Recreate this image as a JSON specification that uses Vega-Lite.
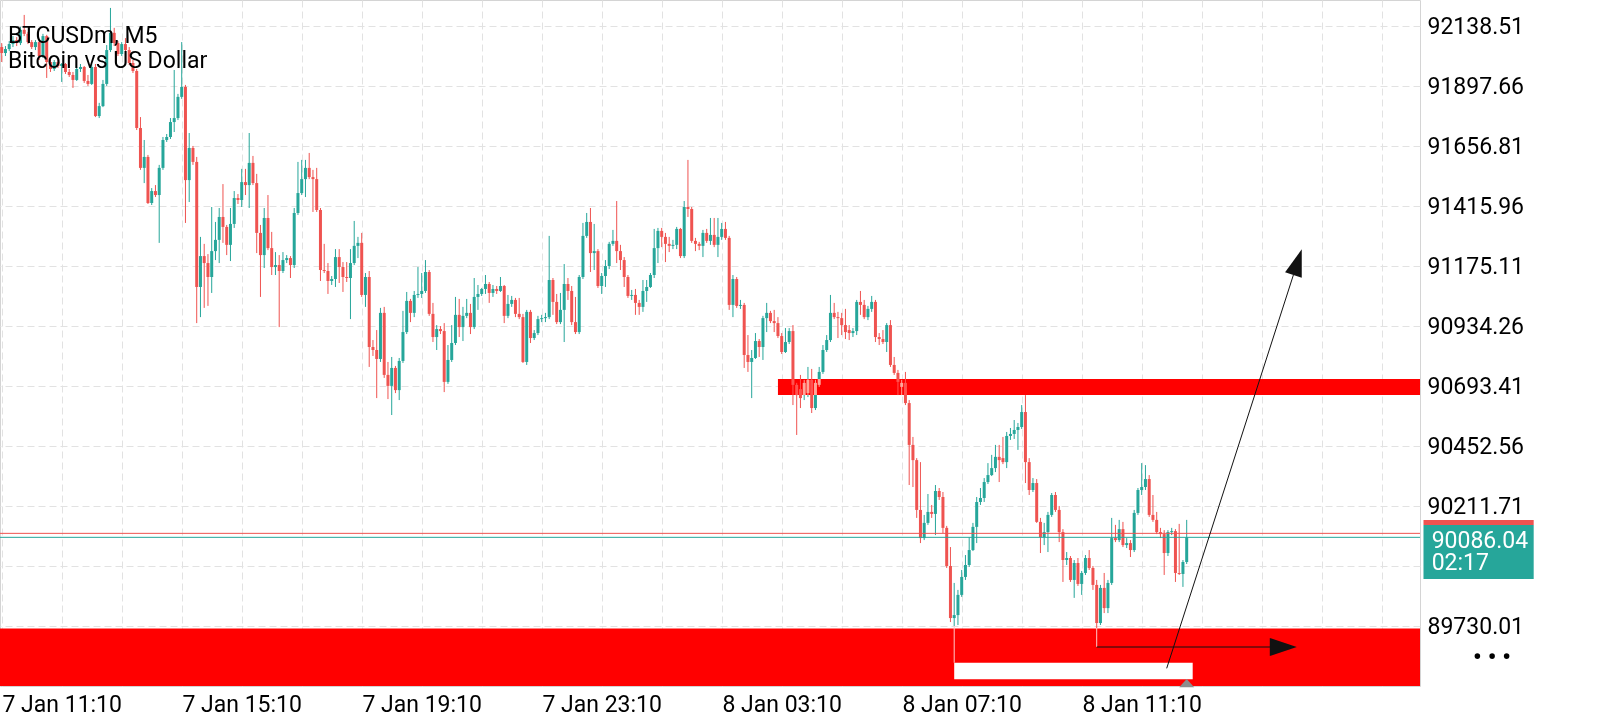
{
  "$schema": "https://vega.github.io/schema/vega-lite/v6.json",
  "width": 1420,
  "height": 686,
  "autosize": {"type": "none"},
  "padding": {"left": 0, "top": 0, "right": 180, "bottom": 34},
  "background": "#ffffff",
  "title": {
    "text": ["BTCUSDm, M5", "Bitcoin vs US Dollar"],
    "anchor": "start", "frame": "group", "orient": "top", "offset": -96,
    "baseline": "bottom", "lineHeight": 25.5, "font": "Roboto", "fontSize": 23,
    "fontWeight": "normal", "color": "#000000", "dx": 8
  },
  "datasets": {
    "candles": [
      {"t":"2026-01-07T09:50Z","o":92054,"h":92070,"l":91994,"c":92030},
      {"t":"2026-01-07T09:55Z","o":92030,"h":92058,"l":92018,"c":92046},
      {"t":"2026-01-07T10:00Z","o":92046,"h":92078,"l":92038,"c":92066},
      {"t":"2026-01-07T10:05Z","o":92066,"h":92098,"l":92054,"c":92082},
      {"t":"2026-01-07T10:10Z","o":92082,"h":92094,"l":92058,"c":92070},
      {"t":"2026-01-07T10:15Z","o":92070,"h":92135,"l":92062,"c":92123},
      {"t":"2026-01-07T10:20Z","o":92123,"h":92183,"l":92098,"c":92107},
      {"t":"2026-01-07T10:25Z","o":92107,"h":92115,"l":92066,"c":92074},
      {"t":"2026-01-07T10:30Z","o":92074,"h":92082,"l":92046,"c":92054},
      {"t":"2026-01-07T10:35Z","o":92054,"h":92082,"l":92042,"c":92074},
      {"t":"2026-01-07T10:40Z","o":92074,"h":92082,"l":92002,"c":92018},
      {"t":"2026-01-07T10:45Z","o":92018,"h":92107,"l":92010,"c":92098},
      {"t":"2026-01-07T10:50Z","o":92098,"h":92103,"l":91930,"c":91994},
      {"t":"2026-01-07T10:55Z","o":91994,"h":92002,"l":91954,"c":91966},
      {"t":"2026-01-07T11:00Z","o":91966,"h":92002,"l":91958,"c":91994},
      {"t":"2026-01-07T11:05Z","o":91994,"h":92002,"l":91970,"c":91978},
      {"t":"2026-01-07T11:10Z","o":91978,"h":91990,"l":91914,"c":91986},
      {"t":"2026-01-07T11:15Z","o":91986,"h":91990,"l":91946,"c":91954},
      {"t":"2026-01-07T11:20Z","o":91954,"h":91966,"l":91934,"c":91942},
      {"t":"2026-01-07T11:25Z","o":91942,"h":91954,"l":91890,"c":91922},
      {"t":"2026-01-07T11:30Z","o":91922,"h":91974,"l":91918,"c":91966},
      {"t":"2026-01-07T11:35Z","o":91966,"h":91986,"l":91954,"c":91974},
      {"t":"2026-01-07T11:40Z","o":91974,"h":91978,"l":91910,"c":91918},
      {"t":"2026-01-07T11:45Z","o":91918,"h":91942,"l":91898,"c":91906},
      {"t":"2026-01-07T11:50Z","o":91906,"h":91986,"l":91902,"c":91974},
      {"t":"2026-01-07T11:55Z","o":91974,"h":91986,"l":91773,"c":91777},
      {"t":"2026-01-07T12:00Z","o":91777,"h":91830,"l":91769,"c":91817},
      {"t":"2026-01-07T12:05Z","o":91817,"h":91922,"l":91813,"c":91906},
      {"t":"2026-01-07T12:10Z","o":91906,"h":92062,"l":91898,"c":92042},
      {"t":"2026-01-07T12:15Z","o":92042,"h":92211,"l":92034,"c":92111},
      {"t":"2026-01-07T12:20Z","o":92111,"h":92131,"l":92058,"c":92070},
      {"t":"2026-01-07T12:25Z","o":92070,"h":92078,"l":92018,"c":92026},
      {"t":"2026-01-07T12:30Z","o":92026,"h":92074,"l":92018,"c":92066},
      {"t":"2026-01-07T12:35Z","o":92066,"h":92090,"l":92034,"c":92042},
      {"t":"2026-01-07T12:40Z","o":92042,"h":92054,"l":91982,"c":91990},
      {"t":"2026-01-07T12:45Z","o":91990,"h":92002,"l":91950,"c":91958},
      {"t":"2026-01-07T12:50Z","o":91958,"h":91966,"l":91721,"c":91729},
      {"t":"2026-01-07T12:55Z","o":91729,"h":91773,"l":91561,"c":91569},
      {"t":"2026-01-07T13:00Z","o":91569,"h":91681,"l":91508,"c":91613},
      {"t":"2026-01-07T13:05Z","o":91613,"h":91621,"l":91424,"c":91428},
      {"t":"2026-01-07T13:10Z","o":91428,"h":91488,"l":91420,"c":91476},
      {"t":"2026-01-07T13:15Z","o":91476,"h":91500,"l":91452,"c":91460},
      {"t":"2026-01-07T13:20Z","o":91460,"h":91581,"l":91268,"c":91569},
      {"t":"2026-01-07T13:25Z","o":91569,"h":91693,"l":91561,"c":91681},
      {"t":"2026-01-07T13:30Z","o":91681,"h":91705,"l":91673,"c":91693},
      {"t":"2026-01-07T13:35Z","o":91693,"h":91769,"l":91685,"c":91753},
      {"t":"2026-01-07T13:40Z","o":91753,"h":91962,"l":91713,"c":91769},
      {"t":"2026-01-07T13:45Z","o":91769,"h":91866,"l":91761,"c":91854},
      {"t":"2026-01-07T13:50Z","o":91854,"h":92074,"l":91846,"c":91894},
      {"t":"2026-01-07T13:55Z","o":91894,"h":91902,"l":91348,"c":91520},
      {"t":"2026-01-07T14:00Z","o":91520,"h":91709,"l":91432,"c":91649},
      {"t":"2026-01-07T14:05Z","o":91649,"h":91657,"l":91581,"c":91593},
      {"t":"2026-01-07T14:10Z","o":91593,"h":91613,"l":90946,"c":91091},
      {"t":"2026-01-07T14:15Z","o":91091,"h":91292,"l":90970,"c":91215},
      {"t":"2026-01-07T14:20Z","o":91215,"h":91264,"l":91007,"c":91187},
      {"t":"2026-01-07T14:25Z","o":91187,"h":91223,"l":91015,"c":91131},
      {"t":"2026-01-07T14:30Z","o":91131,"h":91412,"l":91067,"c":91235},
      {"t":"2026-01-07T14:35Z","o":91235,"h":91352,"l":91199,"c":91280},
      {"t":"2026-01-07T14:40Z","o":91280,"h":91408,"l":91187,"c":91372},
      {"t":"2026-01-07T14:45Z","o":91372,"h":91504,"l":91268,"c":91332},
      {"t":"2026-01-07T14:50Z","o":91332,"h":91340,"l":91219,"c":91260},
      {"t":"2026-01-07T14:55Z","o":91260,"h":91408,"l":91195,"c":91344},
      {"t":"2026-01-07T15:00Z","o":91344,"h":91476,"l":91328,"c":91448},
      {"t":"2026-01-07T15:05Z","o":91448,"h":91464,"l":91424,"c":91440},
      {"t":"2026-01-07T15:10Z","o":91440,"h":91565,"l":91412,"c":91512},
      {"t":"2026-01-07T15:15Z","o":91512,"h":91565,"l":91460,"c":91500},
      {"t":"2026-01-07T15:20Z","o":91500,"h":91709,"l":91408,"c":91589},
      {"t":"2026-01-07T15:25Z","o":91589,"h":91617,"l":91500,"c":91508},
      {"t":"2026-01-07T15:30Z","o":91508,"h":91545,"l":91227,"c":91308},
      {"t":"2026-01-07T15:35Z","o":91308,"h":91340,"l":91051,"c":91219},
      {"t":"2026-01-07T15:40Z","o":91219,"h":91408,"l":91167,"c":91368},
      {"t":"2026-01-07T15:45Z","o":91368,"h":91460,"l":91239,"c":91247},
      {"t":"2026-01-07T15:50Z","o":91247,"h":91312,"l":91139,"c":91171},
      {"t":"2026-01-07T15:55Z","o":91171,"h":91231,"l":91139,"c":91179},
      {"t":"2026-01-07T16:00Z","o":91179,"h":91219,"l":90930,"c":91155},
      {"t":"2026-01-07T16:05Z","o":91155,"h":91231,"l":91147,"c":91199},
      {"t":"2026-01-07T16:10Z","o":91199,"h":91219,"l":91187,"c":91207},
      {"t":"2026-01-07T16:15Z","o":91207,"h":91215,"l":91127,"c":91179},
      {"t":"2026-01-07T16:20Z","o":91179,"h":91408,"l":91167,"c":91388},
      {"t":"2026-01-07T16:25Z","o":91388,"h":91593,"l":91380,"c":91468},
      {"t":"2026-01-07T16:30Z","o":91468,"h":91601,"l":91460,"c":91524},
      {"t":"2026-01-07T16:35Z","o":91524,"h":91601,"l":91452,"c":91569},
      {"t":"2026-01-07T16:40Z","o":91569,"h":91629,"l":91524,"c":91532},
      {"t":"2026-01-07T16:45Z","o":91532,"h":91561,"l":91392,"c":91524},
      {"t":"2026-01-07T16:50Z","o":91524,"h":91569,"l":91392,"c":91400},
      {"t":"2026-01-07T16:55Z","o":91400,"h":91408,"l":91115,"c":91159},
      {"t":"2026-01-07T17:00Z","o":91159,"h":91264,"l":91147,"c":91155},
      {"t":"2026-01-07T17:05Z","o":91155,"h":91187,"l":91063,"c":91115},
      {"t":"2026-01-07T17:10Z","o":91115,"h":91135,"l":91099,"c":91123},
      {"t":"2026-01-07T17:15Z","o":91123,"h":91243,"l":91091,"c":91211},
      {"t":"2026-01-07T17:20Z","o":91211,"h":91243,"l":91107,"c":91171},
      {"t":"2026-01-07T17:25Z","o":91171,"h":91191,"l":91071,"c":91131},
      {"t":"2026-01-07T17:30Z","o":91131,"h":91191,"l":91111,"c":91127},
      {"t":"2026-01-07T17:35Z","o":91127,"h":91243,"l":90962,"c":91187},
      {"t":"2026-01-07T17:40Z","o":91187,"h":91356,"l":91179,"c":91256},
      {"t":"2026-01-07T17:45Z","o":91256,"h":91292,"l":91207,"c":91268},
      {"t":"2026-01-07T17:50Z","o":91268,"h":91308,"l":91051,"c":91059},
      {"t":"2026-01-07T17:55Z","o":91059,"h":91147,"l":91011,"c":91131},
      {"t":"2026-01-07T18:00Z","o":91131,"h":91155,"l":90770,"c":90850},
      {"t":"2026-01-07T18:05Z","o":90850,"h":90878,"l":90814,"c":90838},
      {"t":"2026-01-07T18:10Z","o":90838,"h":90918,"l":90645,"c":90802},
      {"t":"2026-01-07T18:15Z","o":90802,"h":91007,"l":90790,"c":90987},
      {"t":"2026-01-07T18:20Z","o":90987,"h":91011,"l":90726,"c":90738},
      {"t":"2026-01-07T18:25Z","o":90738,"h":90790,"l":90641,"c":90694},
      {"t":"2026-01-07T18:30Z","o":90694,"h":90810,"l":90577,"c":90766},
      {"t":"2026-01-07T18:35Z","o":90766,"h":90774,"l":90665,"c":90677},
      {"t":"2026-01-07T18:40Z","o":90677,"h":90806,"l":90637,"c":90794},
      {"t":"2026-01-07T18:45Z","o":90794,"h":90995,"l":90786,"c":90910},
      {"t":"2026-01-07T18:50Z","o":90910,"h":91071,"l":90902,"c":91035},
      {"t":"2026-01-07T18:55Z","o":91035,"h":91043,"l":90950,"c":90987},
      {"t":"2026-01-07T19:00Z","o":90987,"h":91075,"l":90970,"c":91059},
      {"t":"2026-01-07T19:05Z","o":91059,"h":91171,"l":91047,"c":91063},
      {"t":"2026-01-07T19:10Z","o":91063,"h":91147,"l":91047,"c":91075},
      {"t":"2026-01-07T19:15Z","o":91075,"h":91199,"l":91067,"c":91151},
      {"t":"2026-01-07T19:20Z","o":91151,"h":91159,"l":90975,"c":90983},
      {"t":"2026-01-07T19:25Z","o":90983,"h":91027,"l":90870,"c":90890},
      {"t":"2026-01-07T19:30Z","o":90890,"h":90938,"l":90838,"c":90922},
      {"t":"2026-01-07T19:35Z","o":90922,"h":90934,"l":90902,"c":90914},
      {"t":"2026-01-07T19:40Z","o":90914,"h":90946,"l":90669,"c":90710},
      {"t":"2026-01-07T19:45Z","o":90710,"h":90858,"l":90702,"c":90798},
      {"t":"2026-01-07T19:50Z","o":90798,"h":90938,"l":90790,"c":90866},
      {"t":"2026-01-07T19:55Z","o":90866,"h":91051,"l":90858,"c":90979},
      {"t":"2026-01-07T20:00Z","o":90979,"h":91043,"l":90890,"c":90930},
      {"t":"2026-01-07T20:05Z","o":90930,"h":91011,"l":90874,"c":90975},
      {"t":"2026-01-07T20:10Z","o":90975,"h":91043,"l":90966,"c":90987},
      {"t":"2026-01-07T20:15Z","o":90987,"h":91023,"l":90902,"c":90930},
      {"t":"2026-01-07T20:20Z","o":90930,"h":91127,"l":90922,"c":91051},
      {"t":"2026-01-07T20:25Z","o":91051,"h":91099,"l":90999,"c":91063},
      {"t":"2026-01-07T20:30Z","o":91063,"h":91087,"l":91055,"c":91083},
      {"t":"2026-01-07T20:35Z","o":91083,"h":91139,"l":91063,"c":91103},
      {"t":"2026-01-07T20:40Z","o":91103,"h":91111,"l":91027,"c":91067},
      {"t":"2026-01-07T20:45Z","o":91067,"h":91099,"l":91051,"c":91083},
      {"t":"2026-01-07T20:50Z","o":91083,"h":91095,"l":91063,"c":91075},
      {"t":"2026-01-07T20:55Z","o":91075,"h":91131,"l":91071,"c":91095},
      {"t":"2026-01-07T21:00Z","o":91095,"h":91099,"l":90946,"c":90975},
      {"t":"2026-01-07T21:05Z","o":90975,"h":91059,"l":90966,"c":91023},
      {"t":"2026-01-07T21:10Z","o":91023,"h":91055,"l":91011,"c":91039},
      {"t":"2026-01-07T21:15Z","o":91039,"h":91047,"l":90970,"c":90983},
      {"t":"2026-01-07T21:20Z","o":90983,"h":91047,"l":90962,"c":90970},
      {"t":"2026-01-07T21:25Z","o":90970,"h":90983,"l":90786,"c":90790},
      {"t":"2026-01-07T21:30Z","o":90790,"h":90999,"l":90778,"c":90991},
      {"t":"2026-01-07T21:35Z","o":90991,"h":90999,"l":90866,"c":90886},
      {"t":"2026-01-07T21:40Z","o":90886,"h":90918,"l":90878,"c":90906},
      {"t":"2026-01-07T21:45Z","o":90906,"h":90975,"l":90898,"c":90962},
      {"t":"2026-01-07T21:50Z","o":90962,"h":90979,"l":90950,"c":90966},
      {"t":"2026-01-07T21:55Z","o":90966,"h":90987,"l":90950,"c":90970},
      {"t":"2026-01-07T22:00Z","o":90970,"h":91296,"l":90962,"c":91119},
      {"t":"2026-01-07T22:05Z","o":91119,"h":91127,"l":90979,"c":91031},
      {"t":"2026-01-07T22:10Z","o":91031,"h":91063,"l":90942,"c":90950},
      {"t":"2026-01-07T22:15Z","o":90950,"h":91067,"l":90942,"c":90999},
      {"t":"2026-01-07T22:20Z","o":90999,"h":91183,"l":90870,"c":91103},
      {"t":"2026-01-07T22:25Z","o":91103,"h":91127,"l":91039,"c":91075},
      {"t":"2026-01-07T22:30Z","o":91075,"h":91095,"l":90938,"c":90950},
      {"t":"2026-01-07T22:35Z","o":90950,"h":91051,"l":90902,"c":90910},
      {"t":"2026-01-07T22:40Z","o":90910,"h":91139,"l":90902,"c":91131},
      {"t":"2026-01-07T22:45Z","o":91131,"h":91348,"l":91123,"c":91296},
      {"t":"2026-01-07T22:50Z","o":91296,"h":91388,"l":91288,"c":91352},
      {"t":"2026-01-07T22:55Z","o":91352,"h":91408,"l":91151,"c":91227},
      {"t":"2026-01-07T23:00Z","o":91227,"h":91344,"l":91159,"c":91235},
      {"t":"2026-01-07T23:05Z","o":91235,"h":91243,"l":91087,"c":91095},
      {"t":"2026-01-07T23:10Z","o":91095,"h":91147,"l":91063,"c":91135},
      {"t":"2026-01-07T23:15Z","o":91135,"h":91199,"l":91091,"c":91175},
      {"t":"2026-01-07T23:20Z","o":91175,"h":91272,"l":91163,"c":91264},
      {"t":"2026-01-07T23:25Z","o":91264,"h":91320,"l":91256,"c":91276},
      {"t":"2026-01-07T23:30Z","o":91276,"h":91436,"l":91187,"c":91235},
      {"t":"2026-01-07T23:35Z","o":91235,"h":91260,"l":91159,"c":91199},
      {"t":"2026-01-07T23:40Z","o":91199,"h":91211,"l":91091,"c":91131},
      {"t":"2026-01-07T23:45Z","o":91131,"h":91139,"l":91047,"c":91055},
      {"t":"2026-01-07T23:50Z","o":91055,"h":91079,"l":91039,"c":91059},
      {"t":"2026-01-07T23:55Z","o":91059,"h":91083,"l":90979,"c":91027},
      {"t":"2026-01-08T00:00Z","o":91027,"h":91039,"l":90979,"c":91011},
      {"t":"2026-01-08T00:05Z","o":91011,"h":91119,"l":90991,"c":91075},
      {"t":"2026-01-08T00:10Z","o":91075,"h":91119,"l":91031,"c":91091},
      {"t":"2026-01-08T00:15Z","o":91091,"h":91147,"l":91087,"c":91139},
      {"t":"2026-01-08T00:20Z","o":91139,"h":91324,"l":91127,"c":91247},
      {"t":"2026-01-08T00:25Z","o":91247,"h":91328,"l":91187,"c":91316},
      {"t":"2026-01-08T00:30Z","o":91316,"h":91328,"l":91251,"c":91292},
      {"t":"2026-01-08T00:35Z","o":91292,"h":91308,"l":91191,"c":91264},
      {"t":"2026-01-08T00:40Z","o":91264,"h":91292,"l":91231,"c":91256},
      {"t":"2026-01-08T00:45Z","o":91256,"h":91280,"l":91243,"c":91260},
      {"t":"2026-01-08T00:50Z","o":91260,"h":91332,"l":91243,"c":91324},
      {"t":"2026-01-08T00:55Z","o":91324,"h":91328,"l":91207,"c":91215},
      {"t":"2026-01-08T01:00Z","o":91215,"h":91436,"l":91207,"c":91412},
      {"t":"2026-01-08T01:05Z","o":91412,"h":91601,"l":91372,"c":91404},
      {"t":"2026-01-08T01:10Z","o":91404,"h":91412,"l":91268,"c":91276},
      {"t":"2026-01-08T01:15Z","o":91276,"h":91288,"l":91235,"c":91264},
      {"t":"2026-01-08T01:20Z","o":91264,"h":91272,"l":91239,"c":91256},
      {"t":"2026-01-08T01:25Z","o":91256,"h":91320,"l":91211,"c":91308},
      {"t":"2026-01-08T01:30Z","o":91308,"h":91324,"l":91268,"c":91276},
      {"t":"2026-01-08T01:35Z","o":91276,"h":91368,"l":91260,"c":91300},
      {"t":"2026-01-08T01:40Z","o":91300,"h":91368,"l":91251,"c":91260},
      {"t":"2026-01-08T01:45Z","o":91260,"h":91368,"l":91211,"c":91292},
      {"t":"2026-01-08T01:50Z","o":91292,"h":91348,"l":91280,"c":91324},
      {"t":"2026-01-08T01:55Z","o":91324,"h":91352,"l":91280,"c":91288},
      {"t":"2026-01-08T02:00Z","o":91288,"h":91296,"l":90999,"c":91019},
      {"t":"2026-01-08T02:05Z","o":91019,"h":91139,"l":90970,"c":91123},
      {"t":"2026-01-08T02:10Z","o":91123,"h":91131,"l":91007,"c":91015},
      {"t":"2026-01-08T02:15Z","o":91015,"h":91039,"l":91003,"c":91019},
      {"t":"2026-01-08T02:20Z","o":91019,"h":91027,"l":90766,"c":90818},
      {"t":"2026-01-08T02:25Z","o":90818,"h":90898,"l":90750,"c":90790},
      {"t":"2026-01-08T02:30Z","o":90790,"h":90838,"l":90645,"c":90806},
      {"t":"2026-01-08T02:35Z","o":90806,"h":90906,"l":90802,"c":90874},
      {"t":"2026-01-08T02:40Z","o":90874,"h":90882,"l":90810,"c":90850},
      {"t":"2026-01-08T02:45Z","o":90850,"h":90975,"l":90798,"c":90966},
      {"t":"2026-01-08T02:50Z","o":90966,"h":91027,"l":90910,"c":90987},
      {"t":"2026-01-08T02:55Z","o":90987,"h":90995,"l":90946,"c":90954},
      {"t":"2026-01-08T03:00Z","o":90954,"h":90999,"l":90910,"c":90946},
      {"t":"2026-01-08T03:05Z","o":90946,"h":90970,"l":90886,"c":90894},
      {"t":"2026-01-08T03:10Z","o":90894,"h":90906,"l":90822,"c":90830},
      {"t":"2026-01-08T03:15Z","o":90830,"h":90926,"l":90826,"c":90870},
      {"t":"2026-01-08T03:20Z","o":90870,"h":90926,"l":90862,"c":90914},
      {"t":"2026-01-08T03:25Z","o":90914,"h":90938,"l":90617,"c":90698},
      {"t":"2026-01-08T03:30Z","o":90698,"h":90706,"l":90497,"c":90657},
      {"t":"2026-01-08T03:35Z","o":90681,"h":90738,"l":90605,"c":90645},
      {"t":"2026-01-08T03:40Z","o":90657,"h":90718,"l":90637,"c":90706},
      {"t":"2026-01-08T03:45Z","o":90665,"h":90770,"l":90649,"c":90718},
      {"t":"2026-01-08T03:50Z","o":90718,"h":90762,"l":90585,"c":90605},
      {"t":"2026-01-08T03:55Z","o":90605,"h":90718,"l":90597,"c":90706},
      {"t":"2026-01-08T04:00Z","o":90698,"h":90770,"l":90690,"c":90750},
      {"t":"2026-01-08T04:05Z","o":90750,"h":90858,"l":90742,"c":90838},
      {"t":"2026-01-08T04:10Z","o":90838,"h":90898,"l":90830,"c":90878},
      {"t":"2026-01-08T04:15Z","o":90878,"h":91059,"l":90870,"c":90987},
      {"t":"2026-01-08T04:20Z","o":90987,"h":91027,"l":90962,"c":90970},
      {"t":"2026-01-08T04:25Z","o":90970,"h":90991,"l":90886,"c":90966},
      {"t":"2026-01-08T04:30Z","o":90966,"h":90987,"l":90898,"c":90938},
      {"t":"2026-01-08T04:35Z","o":90938,"h":91003,"l":90882,"c":90910},
      {"t":"2026-01-08T04:40Z","o":90918,"h":90938,"l":90878,"c":90906},
      {"t":"2026-01-08T04:45Z","o":90906,"h":90926,"l":90890,"c":90914},
      {"t":"2026-01-08T04:50Z","o":90914,"h":91039,"l":90898,"c":91031},
      {"t":"2026-01-08T04:55Z","o":91031,"h":91075,"l":90979,"c":91019},
      {"t":"2026-01-08T05:00Z","o":91019,"h":91039,"l":90962,"c":90970},
      {"t":"2026-01-08T05:05Z","o":90970,"h":91015,"l":90958,"c":91003},
      {"t":"2026-01-08T05:10Z","o":91003,"h":91055,"l":90991,"c":91031},
      {"t":"2026-01-08T05:15Z","o":91031,"h":91039,"l":90870,"c":90890},
      {"t":"2026-01-08T05:20Z","o":90890,"h":90906,"l":90858,"c":90882},
      {"t":"2026-01-08T05:25Z","o":90882,"h":90918,"l":90862,"c":90870},
      {"t":"2026-01-08T05:30Z","o":90870,"h":90946,"l":90830,"c":90938},
      {"t":"2026-01-08T05:35Z","o":90938,"h":90958,"l":90770,"c":90778},
      {"t":"2026-01-08T05:40Z","o":90778,"h":90810,"l":90738,"c":90746},
      {"t":"2026-01-08T05:45Z","o":90746,"h":90758,"l":90657,"c":90710},
      {"t":"2026-01-08T05:50Z","o":90690,"h":90718,"l":90657,"c":90706},
      {"t":"2026-01-08T05:55Z","o":90706,"h":90750,"l":90617,"c":90625},
      {"t":"2026-01-08T06:00Z","o":90625,"h":90637,"l":90296,"c":90457},
      {"t":"2026-01-08T06:05Z","o":90457,"h":90489,"l":90288,"c":90396},
      {"t":"2026-01-08T06:10Z","o":90396,"h":90404,"l":90164,"c":90196},
      {"t":"2026-01-08T06:15Z","o":90196,"h":90388,"l":90063,"c":90083},
      {"t":"2026-01-08T06:20Z","o":90083,"h":90176,"l":90075,"c":90144},
      {"t":"2026-01-08T06:25Z","o":90144,"h":90260,"l":90136,"c":90188},
      {"t":"2026-01-08T06:30Z","o":90188,"h":90216,"l":90164,"c":90180},
      {"t":"2026-01-08T06:35Z","o":90180,"h":90296,"l":90095,"c":90272},
      {"t":"2026-01-08T06:40Z","o":90272,"h":90284,"l":90236,"c":90248},
      {"t":"2026-01-08T06:45Z","o":90248,"h":90268,"l":90103,"c":90124},
      {"t":"2026-01-08T06:50Z","o":90124,"h":90132,"l":89963,"c":89971},
      {"t":"2026-01-08T06:55Z","o":89971,"h":90047,"l":89746,"c":89762},
      {"t":"2026-01-08T07:00Z","o":89762,"h":89903,"l":89730,"c":89774},
      {"t":"2026-01-08T07:05Z","o":89774,"h":89875,"l":89734,"c":89855},
      {"t":"2026-01-08T07:10Z","o":89855,"h":89955,"l":89847,"c":89927},
      {"t":"2026-01-08T07:15Z","o":89927,"h":90015,"l":89915,"c":89975},
      {"t":"2026-01-08T07:20Z","o":89975,"h":90087,"l":89967,"c":90035},
      {"t":"2026-01-08T07:25Z","o":90035,"h":90144,"l":90031,"c":90128},
      {"t":"2026-01-08T07:30Z","o":90128,"h":90248,"l":90063,"c":90228},
      {"t":"2026-01-08T07:35Z","o":90228,"h":90284,"l":90216,"c":90244},
      {"t":"2026-01-08T07:40Z","o":90244,"h":90324,"l":90228,"c":90308},
      {"t":"2026-01-08T07:45Z","o":90308,"h":90384,"l":90300,"c":90336},
      {"t":"2026-01-08T07:50Z","o":90336,"h":90417,"l":90332,"c":90364},
      {"t":"2026-01-08T07:55Z","o":90364,"h":90457,"l":90348,"c":90409},
      {"t":"2026-01-08T08:00Z","o":90409,"h":90457,"l":90308,"c":90396},
      {"t":"2026-01-08T08:05Z","o":90404,"h":90489,"l":90380,"c":90388},
      {"t":"2026-01-08T08:10Z","o":90388,"h":90509,"l":90364,"c":90493},
      {"t":"2026-01-08T08:15Z","o":90493,"h":90525,"l":90477,"c":90501},
      {"t":"2026-01-08T08:20Z","o":90501,"h":90557,"l":90481,"c":90517},
      {"t":"2026-01-08T08:25Z","o":90517,"h":90545,"l":90437,"c":90529},
      {"t":"2026-01-08T08:30Z","o":90529,"h":90617,"l":90521,"c":90589},
      {"t":"2026-01-08T08:35Z","o":90589,"h":90657,"l":90304,"c":90388},
      {"t":"2026-01-08T08:40Z","o":90388,"h":90404,"l":90256,"c":90276},
      {"t":"2026-01-08T08:45Z","o":90276,"h":90324,"l":90268,"c":90304},
      {"t":"2026-01-08T08:50Z","o":90304,"h":90320,"l":90144,"c":90148},
      {"t":"2026-01-08T08:55Z","o":90148,"h":90164,"l":90023,"c":90087},
      {"t":"2026-01-08T09:00Z","o":90087,"h":90144,"l":90055,"c":90107},
      {"t":"2026-01-08T09:05Z","o":90107,"h":90188,"l":90027,"c":90176},
      {"t":"2026-01-08T09:10Z","o":90176,"h":90264,"l":90168,"c":90256},
      {"t":"2026-01-08T09:15Z","o":90256,"h":90268,"l":90188,"c":90196},
      {"t":"2026-01-08T09:20Z","o":90196,"h":90212,"l":90067,"c":90107},
      {"t":"2026-01-08T09:25Z","o":90107,"h":90119,"l":89907,"c":89995},
      {"t":"2026-01-08T09:30Z","o":89995,"h":90027,"l":89975,"c":90003},
      {"t":"2026-01-08T09:35Z","o":90003,"h":90011,"l":89907,"c":89915},
      {"t":"2026-01-08T09:40Z","o":89915,"h":89995,"l":89843,"c":89983},
      {"t":"2026-01-08T09:45Z","o":89983,"h":90003,"l":89891,"c":89899},
      {"t":"2026-01-08T09:50Z","o":89899,"h":89951,"l":89855,"c":89943},
      {"t":"2026-01-08T09:55Z","o":89943,"h":90015,"l":89935,"c":90003},
      {"t":"2026-01-08T10:00Z","o":90003,"h":90035,"l":89955,"c":89963},
      {"t":"2026-01-08T10:05Z","o":89963,"h":89971,"l":89875,"c":89895},
      {"t":"2026-01-08T10:10Z","o":89895,"h":89915,"l":89722,"c":89742},
      {"t":"2026-01-08T10:15Z","o":89742,"h":89895,"l":89734,"c":89883},
      {"t":"2026-01-08T10:20Z","o":89883,"h":89943,"l":89782,"c":89802},
      {"t":"2026-01-08T10:25Z","o":89802,"h":89915,"l":89782,"c":89903},
      {"t":"2026-01-08T10:30Z","o":89903,"h":90164,"l":89895,"c":90083},
      {"t":"2026-01-08T10:35Z","o":90083,"h":90136,"l":90067,"c":90075},
      {"t":"2026-01-08T10:40Z","o":90075,"h":90156,"l":90067,"c":90119},
      {"t":"2026-01-08T10:45Z","o":90119,"h":90148,"l":90047,"c":90055},
      {"t":"2026-01-08T10:50Z","o":90055,"h":90083,"l":90043,"c":90063},
      {"t":"2026-01-08T10:55Z","o":90063,"h":90075,"l":90007,"c":90035},
      {"t":"2026-01-08T11:00Z","o":90035,"h":90196,"l":90027,"c":90184},
      {"t":"2026-01-08T11:05Z","o":90184,"h":90284,"l":90176,"c":90276},
      {"t":"2026-01-08T11:10Z","o":90276,"h":90384,"l":90256,"c":90288},
      {"t":"2026-01-08T11:15Z","o":90288,"h":90376,"l":90276,"c":90320},
      {"t":"2026-01-08T11:20Z","o":90320,"h":90336,"l":90168,"c":90176},
      {"t":"2026-01-08T11:25Z","o":90176,"h":90256,"l":90148,"c":90156},
      {"t":"2026-01-08T11:30Z","o":90156,"h":90188,"l":90099,"c":90107},
      {"t":"2026-01-08T11:35Z","o":90107,"h":90124,"l":90083,"c":90099},
      {"t":"2026-01-08T11:40Z","o":90099,"h":90115,"l":89935,"c":90023},
      {"t":"2026-01-08T11:45Z","o":90023,"h":90115,"l":90011,"c":90107},
      {"t":"2026-01-08T11:50Z","o":90107,"h":90124,"l":90095,"c":90111},
      {"t":"2026-01-08T11:55Z","o":90111,"h":90119,"l":89907,"c":89943},
      {"t":"2026-01-08T12:00Z","o":89943,"h":90140,"l":89935,"c":89939},
      {"t":"2026-01-08T12:05Z","o":89939,"h":89995,"l":89887,"c":89987},
      {"t":"2026-01-08T12:10Z","o":89987,"h":90156,"l":89979,"c":90086.04}
    ]
  },
  "layer": [
    {
      "data": {"name": "candles"},
      "mark": {"type": "rule", "strokeWidth": 1},
      "encoding": {
        "x": {
          "field": "t", "type": "temporal",
          "scale": {
            "type": "utc", "nice": false,
            "domain": [
              {"year": 2026, "month": 1, "date": 7, "hours": 9, "minutes": 47, "seconds": 43, "utc": true},
              {"year": 2026, "month": 1, "date": 8, "hours": 17, "minutes": 21, "seconds": 5, "utc": true}
            ]
          },
          "axis": {
            "title": null, "domain": false, "ticks": false, "tickSize": 0,
            "grid": true, "gridColor": "#e2e2e2", "gridDash": [7, 4], "gridWidth": 1,
            "values": [
              {"year": 2026, "month": 1, "date": 7, "hours": 9, "minutes": 50, "utc": true},
              {"year": 2026, "month": 1, "date": 7, "hours": 11, "minutes": 10, "utc": true},
              {"year": 2026, "month": 1, "date": 7, "hours": 12, "minutes": 30, "utc": true},
              {"year": 2026, "month": 1, "date": 7, "hours": 13, "minutes": 50, "utc": true},
              {"year": 2026, "month": 1, "date": 7, "hours": 15, "minutes": 10, "utc": true},
              {"year": 2026, "month": 1, "date": 7, "hours": 16, "minutes": 30, "utc": true},
              {"year": 2026, "month": 1, "date": 7, "hours": 17, "minutes": 50, "utc": true},
              {"year": 2026, "month": 1, "date": 7, "hours": 19, "minutes": 10, "utc": true},
              {"year": 2026, "month": 1, "date": 7, "hours": 20, "minutes": 30, "utc": true},
              {"year": 2026, "month": 1, "date": 7, "hours": 21, "minutes": 50, "utc": true},
              {"year": 2026, "month": 1, "date": 7, "hours": 23, "minutes": 10, "utc": true},
              {"year": 2026, "month": 1, "date": 8, "hours": 0, "minutes": 30, "utc": true},
              {"year": 2026, "month": 1, "date": 8, "hours": 1, "minutes": 50, "utc": true},
              {"year": 2026, "month": 1, "date": 8, "hours": 3, "minutes": 10, "utc": true},
              {"year": 2026, "month": 1, "date": 8, "hours": 4, "minutes": 30, "utc": true},
              {"year": 2026, "month": 1, "date": 8, "hours": 5, "minutes": 50, "utc": true},
              {"year": 2026, "month": 1, "date": 8, "hours": 7, "minutes": 10, "utc": true},
              {"year": 2026, "month": 1, "date": 8, "hours": 8, "minutes": 30, "utc": true},
              {"year": 2026, "month": 1, "date": 8, "hours": 9, "minutes": 50, "utc": true},
              {"year": 2026, "month": 1, "date": 8, "hours": 11, "minutes": 10, "utc": true},
              {"year": 2026, "month": 1, "date": 8, "hours": 12, "minutes": 30, "utc": true},
              {"year": 2026, "month": 1, "date": 8, "hours": 13, "minutes": 50, "utc": true},
              {"year": 2026, "month": 1, "date": 8, "hours": 15, "minutes": 10, "utc": true},
              {"year": 2026, "month": 1, "date": 8, "hours": 16, "minutes": 30, "utc": true}
            ],
            "labelExpr": "(utcminutes(datum.value) == 10 && utchours(datum.value) % 4 == 3 && (utcdate(datum.value) == 7 || utchours(datum.value) < 12)) ? utcFormat(datum.value, '%-d %b %H:%M') : ''",
            "labelFont": "Roboto", "labelFontSize": 23, "labelColor": "#000000", "labelPadding": 7.5,
            "labelFlush": false, "labelOverlap": false
          }
        },
        "y": {
          "field": "l", "type": "quantitative",
          "scale": {"domain": [89489.3, 92242.9], "nice": false, "zero": false},
          "axis": {
            "title": null, "orient": "right", "domain": false, "ticks": false, "tickSize": 0,
            "grid": true, "gridColor": "#e2e2e2", "gridDash": [7, 4], "gridWidth": 1,
            "values": [92138.51, 91897.66, 91656.81, 91415.96, 91175.11, 90934.26, 90693.41, 90452.56, 90211.71, 89970.86, 89730.01],
            "labelExpr": "abs(datum.value - 89970.86) < 1 ? '' : format(datum.value, '.2f')",
            "labelFont": "Roboto", "labelFontSize": 23, "labelColor": "#000000",
            "labelPadding": 7, "labelAlign": "left", "labelOverlap": false
          }
        },
        "y2": {"field": "h"},
        "color": {"condition": {"test": "datum.c >= datum.o", "value": "#26a69a"}, "value": "#ef5350"}
      }
    },
    {
      "data": {"name": "candles"},
      "mark": {"type": "rule", "strokeWidth": 3},
      "encoding": {
        "x": {"field": "t", "type": "temporal"},
        "y": {"field": "o", "type": "quantitative"},
        "y2": {"field": "c"},
        "color": {"condition": {"test": "datum.c >= datum.o", "value": "#26a69a"}, "value": "#ef5350"}
      }
    },
    {
      "data": {"values": [
        {"start": "2026-01-08T03:05:00Z", "end": "2026-01-08T17:21:05Z", "top": 90721.5, "bottom": 90657.3},
        {"start": "2026-01-07T09:47:43Z", "end": "2026-01-08T17:21:05Z", "top": 89720, "bottom": 89489.3}
      ]},
      "mark": {"type": "rect", "color": "#ff0000"},
      "encoding": {
        "x": {"field": "start", "type": "temporal"},
        "x2": {"field": "end"},
        "y": {"field": "top", "type": "quantitative"},
        "y2": {"field": "bottom"}
      }
    },
    {
      "data": {"name": "candles"},
      "mark": {"type": "rule", "strokeWidth": 1, "blend": "lighten"},
      "encoding": {
        "x": {"field": "t", "type": "temporal"},
        "y": {"field": "l", "type": "quantitative"},
        "y2": {"field": "h"},
        "color": {"condition": {"test": "datum.c >= datum.o", "value": "#26a69a"}, "value": "#ef5350"}
      }
    },
    {
      "data": {"name": "candles"},
      "mark": {"type": "rule", "strokeWidth": 3, "blend": "lighten"},
      "encoding": {
        "x": {"field": "t", "type": "temporal"},
        "y": {"field": "o", "type": "quantitative"},
        "y2": {"field": "c"},
        "color": {"condition": {"test": "datum.c >= datum.o", "value": "#26a69a"}, "value": "#ef5350"}
      }
    },
    {
      "data": {"values": [
        {"start": "2026-01-08T07:00:00Z", "end": "2026-01-08T12:18:00Z", "top": 89582.7, "bottom": 89516.1}
      ]},
      "mark": {"type": "rect", "color": "#ffffff"},
      "encoding": {
        "x": {"field": "start", "type": "temporal"},
        "x2": {"field": "end"},
        "y": {"field": "top", "type": "quantitative"},
        "y2": {"field": "bottom"}
      }
    },
    {
      "data": {"values": [
        {"price": 90102, "kind": "ask"},
        {"price": 90086.04, "kind": "bid"}
      ]},
      "mark": {"type": "rule", "strokeWidth": 1},
      "encoding": {
        "y": {"field": "price", "type": "quantitative"},
        "color": {"condition": {"test": "datum.kind == 'ask'", "value": "#ef5350"}, "value": "#26a69a"}
      }
    },
    {
      "data": {"values": [
        {"t": "2026-01-08T07:00:00Z", "from": 89730, "to": 89582.7},
        {"t": "2026-01-08T10:10:00Z", "from": 89722, "to": 89645.8}
      ]},
      "mark": {"type": "rule", "strokeWidth": 1, "color": "#ffc8c8"},
      "encoding": {
        "x": {"field": "t", "type": "temporal"},
        "y": {"field": "from", "type": "quantitative"},
        "y2": {"field": "to"}
      }
    },
    {
      "data": {"values": [
        {"start": "2026-01-08T10:10:00Z", "end": "2026-01-08T14:01:00Z", "from": 89645.8, "to": 89645.8},
        {"start": "2026-01-08T11:43:20Z", "end": "2026-01-08T14:32:16Z", "from": 89560.2, "to": 91139.0}
      ]},
      "mark": {"type": "rule", "strokeWidth": 1, "color": "#111111"},
      "encoding": {
        "x": {"field": "start", "type": "temporal"},
        "x2": {"field": "end"},
        "y": {"field": "from", "type": "quantitative"},
        "y2": {"field": "to"}
      }
    },
    {
      "data": {"values": [{"t": "2026-01-08T14:18:48Z", "price": 89645.8}]},
      "mark": {"type": "point", "shape": "M1,0L-1,-0.67L-1,0.67Z", "size": 729, "filled": true, "color": "#111111", "opacity": 1},
      "encoding": {
        "x": {"field": "t", "type": "temporal"},
        "y": {"field": "price", "type": "quantitative"}
      }
    },
    {
      "data": {"values": [{"t": "2026-01-08T14:37:52Z", "price": 91190.4}]},
      "mark": {"type": "point", "shape": "M0,-1L0.65,1L-0.65,1Z", "size": 729, "filled": true, "color": "#111111", "opacity": 1, "angle": 17.9},
      "encoding": {
        "x": {"field": "t", "type": "temporal"},
        "y": {"field": "price", "type": "quantitative"}
      }
    },
    {
      "data": {"values": [{"t": "2026-01-08T12:10:00Z", "price": 89501.2}]},
      "mark": {"type": "point", "shape": "M0,-0.55L1,0.55L-1,0.55Z", "size": 225, "filled": true, "color": "#8c8c8c", "opacity": 1},
      "encoding": {
        "x": {"field": "t", "type": "temporal"},
        "y": {"field": "price", "type": "quantitative"}
      }
    },
    {
      "data": {"values": [
        {"start": "2026-01-08T17:25:44Z", "end": "2026-01-08T19:52:40Z", "top": 90155.5, "bottom": 90135.4, "part": "ask"},
        {"start": "2026-01-08T17:25:44Z", "end": "2026-01-08T19:52:40Z", "top": 90135.4, "bottom": 89918.6, "part": "bid"}
      ]},
      "mark": {"type": "rect"},
      "encoding": {
        "x": {"field": "start", "type": "temporal"},
        "x2": {"field": "end"},
        "y": {"field": "top", "type": "quantitative"},
        "y2": {"field": "bottom"},
        "color": {"condition": {"test": "datum.part == 'ask'", "value": "#ef5350"}, "value": "#26a69a"}
      }
    },
    {
      "data": {"values": [
        {"t": "2026-01-08T17:36:36Z", "price": 90043.1, "label": "90086.04"},
        {"t": "2026-01-08T17:36:36Z", "price": 89954.8, "label": "02:17"}
      ]},
      "mark": {"type": "text", "align": "left", "baseline": "alphabetic", "font": "Roboto", "fontSize": 23, "color": "#ffffff"},
      "encoding": {
        "x": {"field": "t", "type": "temporal"},
        "y": {"field": "price", "type": "quantitative"},
        "text": {"field": "label"}
      }
    },
    {
      "data": {"values": [{"t": "2026-01-08T18:57:04Z", "price": 89601.6, "label": "• • •"}]},
      "mark": {"type": "text", "align": "center", "baseline": "middle", "font": "Roboto", "fontSize": 24, "fontWeight": "bold", "color": "#000000"},
      "encoding": {
        "x": {"field": "t", "type": "temporal"},
        "y": {"field": "price", "type": "quantitative"},
        "text": {"field": "label"}
      }
    }
  ],
  "config": {
    "view": {"stroke": "#d4d4d4", "strokeWidth": 1}
  }
}
